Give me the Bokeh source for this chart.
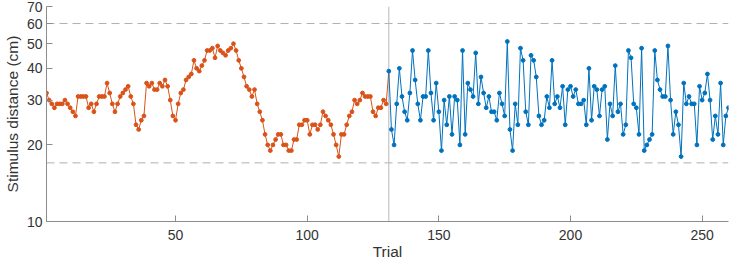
from bokeh.plotting import figure
from bokeh.models import Range1d, FixedTicker, PrintfTickFormatter, Span
from bokeh.embed import file_html
from bokeh.resources import INLINE

# --- data ---
adaptive_trials = list(range(1, 131))
adaptive_dist = [32, 30, 29, 28, 29, 29, 29, 30, 29, 28, 27, 26, 31, 31, 31, 31, 28, 29, 27, 29,
                 31, 31, 31, 35, 32, 29, 27, 29, 31, 32, 33, 34, 31, 29, 24, 23, 25, 26, 35, 34,
                 35, 33, 33, 35, 34, 36, 34, 30, 26, 25, 29, 32, 33, 36, 37, 38, 43, 40, 39, 41,
                 43, 47, 47, 48, 44, 49, 47, 46, 45, 47, 48, 50, 47, 43, 40, 37, 34, 33, 31, 33,
                 29, 27, 25, 22, 20, 19, 20, 21, 22, 22, 20, 20, 19, 19, 21, 21, 24, 24, 25, 25,
                 22, 24, 24, 23, 24, 27, 26, 25, 24, 22, 20, 18, 22, 22, 24, 26, 27, 30, 29, 30,
                 32, 31, 31, 31, 27, 26, 28, 28, 30, 29]
random_trials = list(range(131, 261))
random_dist = [39, 23, 20, 29, 40, 31, 27, 25, 32, 47, 36, 29, 25, 31, 31, 47, 32, 25, 35, 27,
               19, 30, 24, 31, 22, 31, 30, 20, 47, 22, 35, 33, 31, 46, 29, 37, 32, 28, 31, 27,
               27, 25, 32, 29, 26, 51, 23, 19, 29, 24, 48, 43, 27, 24, 45, 43, 37, 26, 24, 25,
               31, 28, 43, 29, 31, 28, 34, 24, 33, 34, 31, 33, 29, 29, 30, 24, 40, 25, 34, 33,
               26, 33, 34, 21, 29, 26, 41, 27, 29, 22, 24, 47, 44, 29, 28, 22, 48, 19, 20, 21,
               22, 47, 36, 33, 31, 31, 49, 30, 22, 27, 24, 18, 35, 29, 31, 29, 29, 20, 34, 30,
               32, 38, 30, 21, 26, 22, 35, 20, 26, 28]
limit_lines = [17, 60]
block_boundary = 131
x_ticks = [50, 100, 150, 200, 250]
y_ticks = [10, 20, 30, 40, 50, 60, 70]

ORANGE = "#D95319"
BLUE = "#0072BD"
FONT = "Liberation Sans"

p = figure(width=729, height=264, y_axis_type="log",
           x_range=Range1d(1, 260), y_range=Range1d(10, 70),
           output_backend="svg", toolbar_location=None,
           min_border_left=42, min_border_right=1, min_border_top=6, min_border_bottom=43)
p.outline_line_color = None
p.xgrid.visible = False
p.ygrid.visible = False
p.background_fill_color = "white"
p.border_fill_color = "white"

for v in limit_lines:
    p.add_layout(Span(location=v, dimension="width", line_color="#b0b0b0",
                      line_width=1, line_dash="8 5", level="underlay"))
p.add_layout(Span(location=block_boundary, dimension="height", line_color="#b8b8b8",
                  line_width=1, level="underlay"))

# orange connects up to the first random trial
ox = adaptive_trials + [random_trials[0]]
oy = adaptive_dist + [random_dist[0]]
p.line(ox, oy, line_color=ORANGE, line_width=1)
p.scatter(adaptive_trials, adaptive_dist, size=3.8, color=ORANGE)
p.line(random_trials, random_dist, line_color=BLUE, line_width=1)
p.scatter(random_trials, random_dist, size=3.8, color=BLUE)

for ax in (p.xaxis[0], p.yaxis[0]):
    ax.axis_line_color = "#8c8c8c"
    ax.major_tick_line_color = "#8c8c8c"
    ax.major_tick_in = 6
    ax.major_tick_out = 0
    ax.minor_tick_line_color = None
    ax.major_label_text_font = FONT
    ax.major_label_text_font_size = "14px"
    ax.major_label_text_color = "#333333"
    ax.axis_label_text_font = FONT
    ax.axis_label_text_font_size = "15.5px"
    ax.axis_label_text_font_style = "normal"
    ax.axis_label_text_color = "#333333"

p.xaxis.ticker = FixedTicker(ticks=x_ticks)
p.yaxis.ticker = FixedTicker(ticks=y_ticks)
p.yaxis.formatter = PrintfTickFormatter(format="%d")
p.xaxis.axis_label = "Trial"
p.yaxis.axis_label = "Stimulus distance (cm)"
p.xaxis.major_label_standoff = 8
p.xaxis.axis_label_standoff = 0
p.yaxis.major_label_standoff = 4
p.yaxis.axis_label_standoff = 3

open("out.html", "w").write(file_html(p, INLINE))
